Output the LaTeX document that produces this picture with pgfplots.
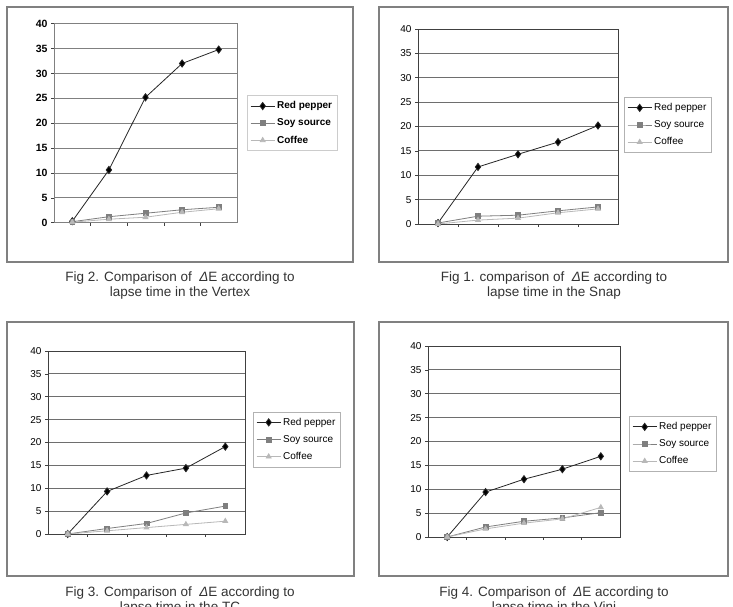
\documentclass[border=0pt]{standalone}
\usepackage{pgfplots}
\pgfplotsset{compat=1.18}
\usepackage{fontspec}
\setmainfont{Liberation Sans}
\definecolor{ssc}{HTML}{7F7F7F}
\definecolor{cfc}{HTML}{B8B8B8}
\definecolor{gridc}{HTML}{6E6E6E}
\pgfplotsset{
  panel/.style={
    scale only axis, anchor=south west,
    xmin=-0.5, xmax=4.5, ymin=0, ymax=40,
    ytick={0,5,...,40},
    xtick={0,...,4}, xticklabels={initial,2d,3d,4d,5d},
    minor xtick={0.5,1.5,2.5,3.5},
    xmajorticks=false,
    tick align=outside, major tick length=3pt, minor tick length=3pt,
    ytick pos=left, xtick pos=bottom,
    ymajorgrids, major grid style={gridc, line width=0.9pt},
    axis line style={black!75, line width=0.8pt},
    tick style={black!75, line width=0.6pt},
    xticklabel style={yshift=-8pt},
    /pgf/number format/assume math mode=true,
    tick label style={font=\fontsize{10}{11}\selectfont},
    legend style={at={(1,0.5)}, anchor=west, draw=black!30, line width=0.6pt,
      font=\fontsize{10}{12}\selectfont, row sep=4.5pt, inner xsep=3pt, inner ysep=4pt,
      cells={anchor=west}},
    legend cell align=left,
    legend image code/.code={\draw[mark repeat=2,mark phase=2,##1] plot coordinates {(0pt,0pt) (12pt,0pt) (24pt,0pt)};},
  },
  rp/.style={color=black!85, line width=0.8pt, mark=diamond*, mark size=3.6pt, mark options={solid, fill=black}},
  ss/.style={color=ssc, line width=0.8pt, mark=square*, mark size=2.4pt, mark options={solid, fill=ssc}},
  cf/.style={color=cfc, line width=0.8pt, mark=triangle*, mark size=2.8pt, mark options={solid, fill=cfc}},
}
\newcommand{\capfont}{\fontsize{13.5}{16}\selectfont}
\begin{document}
\begin{tikzpicture}
\useasboundingbox (0,0) rectangle (733pt,607pt);
\clip (0,0) rectangle (733pt,607pt);
\fill[white] (0,0) rectangle (733pt,607pt);
% frames
\draw[black!50, line width=1.1pt] (7pt,345pt) rectangle (353pt,600pt);
\draw[black!50, line width=1.1pt] (379pt,345pt) rectangle (728pt,600pt);
\draw[black!50, line width=1.1pt] (7pt,31pt) rectangle (354pt,285pt);
\draw[black!50, line width=1.1pt] (379pt,31pt) rectangle (728pt,285pt);

% Panel 1: Vertex
\begin{axis}[panel, at={(54pt,384.3pt)}, width=183pt, height=199pt,
  tick label style={font=\bfseries\fontsize{10.5}{12}\selectfont},
  axis line style={black!50, line width=0.8pt},
  major grid style={black!50, line width=0.8pt},
  legend style={xshift=10pt, font=\bfseries\fontsize{10}{12}\selectfont, draw=black!20}]
\addplot[rp] coordinates {(0,0.3) (1,10.6) (2,25.2) (3,32.0) (4,34.8)};
\addplot[ss] coordinates {(0,0.2) (1,1.2) (2,1.9) (3,2.6) (4,3.1)};
\addplot[cf] coordinates {(0,0.1) (1,0.7) (2,1.1) (3,2.1) (4,2.8)};
\legend{Red pepper, Soy source, Coffee}
\end{axis}

% Panel 2: Snap
\begin{axis}[panel, at={(418pt,383pt)}, width=200pt, height=195pt,
  legend style={xshift=6pt, yshift=1.5pt}]
\addplot[rp] coordinates {(0,0.2) (1,11.7) (2,14.3) (3,16.8) (4,20.2)};
\addplot[ss] coordinates {(0,0.2) (1,1.6) (2,1.8) (3,2.7) (4,3.5)};
\addplot[cf] coordinates {(0,0.0) (1,0.8) (2,1.2) (3,2.3) (4,3.1)};
\legend{Red pepper, Soy source, Coffee}
\end{axis}

% Panel 3: TC
\begin{axis}[panel, at={(48pt,73pt)}, width=197pt, height=183pt,
  legend style={xshift=8pt, yshift=3pt}]
\addplot[rp] coordinates {(0,0) (1,9.3) (2,12.8) (3,14.4) (4,19.1)};
\addplot[ss] coordinates {(0,0) (1,1.2) (2,2.3) (3,4.6) (4,6.1)};
\addplot[cf] coordinates {(0,0) (1,0.7) (2,1.4) (3,2.1) (4,2.8)};
\legend{Red pepper, Soy source, Coffee}
\end{axis}

% Panel 4: Vini
\begin{axis}[panel, at={(428pt,70pt)}, width=192pt, height=191pt,
  legend style={xshift=9pt, yshift=-2.5pt}]
\addplot[rp] coordinates {(0,0) (1,9.4) (2,12.1) (3,14.2) (4,16.9)};
\addplot[ss] coordinates {(0,0) (1,2.1) (2,3.3) (3,4.0) (4,5.1)};
\addplot[cf] coordinates {(0,0) (1,1.7) (2,2.9) (3,3.8) (4,6.2)};
\legend{Red pepper, Soy source, Coffee}
\end{axis}

% captions
\node[font=\capfont, black!80] at (180pt,329pt) {Fig 2. Comparison of \ \textit{Δ}E according to};
\node[font=\capfont, black!80] at (180pt,314pt) {lapse time in the Vertex};
\node[font=\capfont, black!80] at (554pt,329pt) {Fig 1. comparison of \ \textit{Δ}E according to};
\node[font=\capfont, black!80] at (554pt,314pt) {lapse time in the Snap};
\node[font=\capfont, black!80] at (180pt,14pt) {Fig 3. Comparison of \ \textit{Δ}E according to};
\node[font=\capfont, black!80] at (180pt,-1pt) {lapse time in the TC};
\node[font=\capfont, black!80] at (554pt,14pt) {Fig 4. Comparison of \ \textit{Δ}E according to};
\node[font=\capfont, black!80] at (554pt,-1pt) {lapse time in the Vini};
\end{tikzpicture}
\end{document}
